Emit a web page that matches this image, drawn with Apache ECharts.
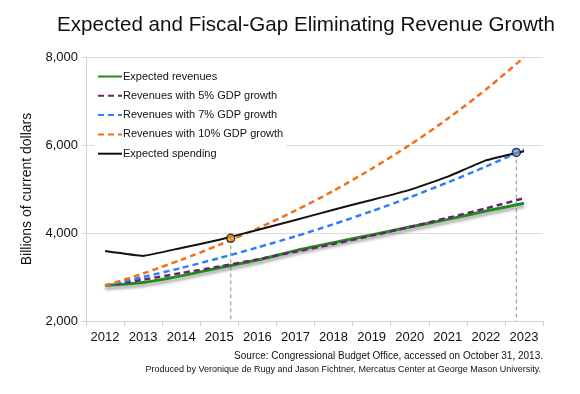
<!DOCTYPE html>
<html>
<head>
<meta charset="utf-8">
<script src="https://cdn.jsdelivr.net/npm/echarts@6/dist/echarts.min.js"></script>
<style>
html,body{margin:0;padding:0;background:#fff;}
#c{width:580px;height:394px;}
</style>
</head>
<body>
<div id="c"></div>
<script>
var years = [2012, 2013, 2014, 2015, 2016, 2017, 2018, 2019, 2020, 2021, 2022, 2023];
var yearLabels = ['2012','2013','2014','2015','2016','2017','2018','2019','2020','2021','2022','2023'];
var expectedRevenues = [2810, 2875, 3025, 3210, 3385, 3600, 3780, 3955, 4135, 4310, 4500, 4675];
var rev5 = [2800, 2940, 3090, 3240, 3400, 3575, 3750, 3940, 4135, 4345, 4560, 4790];
var rev7 = [2800, 3000, 3205, 3430, 3670, 3925, 4200, 4495, 4810, 5150, 5510, 5895];
var rev10 = [2800, 3080, 3390, 3730, 4100, 4510, 4960, 5460, 6000, 6600, 7260, 7990];
var expectedSpending = [3590, 3480, 3660, 3845, 4070, 4295, 4530, 4750, 4980, 5280, 5650, 5860];
var crossYears = [2015.3, 2022.8];
var crossValues = [3880, 5830];
var yTicks = [2000, 4000, 6000, 8000];

function pairs(vals){ return years.map(function(y,i){ return [y, vals[i]]; }); }

var chart = echarts.init(document.getElementById('c'));
var font = 'Liberation Sans, Arial, sans-serif';

function lineSeries(name, vals, color, width, dashed, smooth, extra){
  var s = {
    name: name, type: 'line', xAxisIndex: 1, yAxisIndex: 0,
    data: pairs(vals), symbol: 'none', smooth: smooth,
    lineStyle: { color: color, width: width, type: dashed ? [6, 4] : 'solid' },
    itemStyle: { color: color },
    z: 3
  };
  if (extra) for (var k in extra) s.lineStyle[k] = extra[k];
  return s;
}

var series = [
  lineSeries('Expected revenues', expectedRevenues, '#1e8f1e', 3, false, 0.25,
    { shadowColor: 'rgba(0,0,0,0.35)', shadowBlur: 3, shadowOffsetY: 3 }),
  lineSeries('Revenues with 5% GDP growth', rev5, '#6e1f72', 2.5, true, 0.25),
  lineSeries('Revenues with 7% GDP growth', rev7, '#2f80f5', 2.5, true, 0.25),
  lineSeries('Revenues with 10% GDP growth', rev10, '#f0701a', 2.5, true, 0.25),
  lineSeries('Expected spending', expectedSpending, '#111111', 2, false, 0.1)
];

var markerColors = ['#f0a030', '#6aa8f0'];
crossYears.forEach(function(cy, i){
  series.push({
    type: 'line', xAxisIndex: 1, yAxisIndex: 0, symbol: 'none', silent: true,
    data: [[cy, crossValues[i]], [cy, yTicks[0]]],
    lineStyle: { color: '#a0a0a0', width: 1.2, type: [4, 3] }, z: 2
  });
  series.push({
    type: 'scatter', xAxisIndex: 1, yAxisIndex: 0, silent: true,
    data: [[cy, crossValues[i]]], symbol: 'circle', symbolSize: 8,
    itemStyle: { color: markerColors[i], borderColor: '#111', borderWidth: 1.5 }, z: 5
  });
});

chart.setOption({
  animation: false,
  backgroundColor: '#fff',
  title: {
    text: 'Expected and Fiscal-Gap Eliminating Revenue Growth',
    left: 52, top: 10,
    textStyle: { fontFamily: font, fontSize: 20.6, fontWeight: 'normal', color: '#111' }
  },
  grid: { left: 86, right: 37, top: 57, bottom: 73 },
  legend: {
    orient: 'vertical', left: 94, top: 68,
    backgroundColor: '#fff', padding: [3, 3, 3, 3],
    itemWidth: 24, itemHeight: 10, itemGap: 8.3,
    itemStyle: { opacity: 0 },
    textStyle: { fontFamily: font, fontSize: 11, color: '#111', padding: [0, 0, 0, -4] },
    data: ['Expected revenues', 'Revenues with 5% GDP growth', 'Revenues with 7% GDP growth',
           'Revenues with 10% GDP growth', 'Expected spending']
  },
  xAxis: [{
    type: 'category', data: yearLabels, boundaryGap: true,
    axisLine: { lineStyle: { color: '#d0d0d0' } },
    axisTick: { show: true, length: 5, lineStyle: { color: '#d0d0d0' } },
    axisLabel: { fontFamily: font, fontSize: 13, color: '#111', margin: 10 },
    splitLine: { show: false }
  }, {
    type: 'value', min: 2011.5, max: 2023.5, show: false
  }],
  yAxis: [{
    type: 'value', min: 2000, max: 8000, interval: 2000,
    name: 'Billions of current dollars', nameLocation: 'middle', nameGap: 51,
    nameTextStyle: { fontFamily: font, fontSize: 14, color: '#111' },
    axisLine: { show: true, lineStyle: { color: '#d0d0d0' } },
    axisTick: { show: true, length: 4, lineStyle: { color: '#d0d0d0' } },
    axisLabel: {
      fontFamily: font, fontSize: 13, color: '#111', margin: 8,
      formatter: function(v){ return v.toLocaleString('en-US'); }
    },
    splitLine: { lineStyle: { color: '#dcdcdc' } }
  }],
  graphic: [{
    type: 'text', right: 37, top: 351,
    style: { text: 'Source: Congressional Budget Office, accessed on October 31, 2013.',
      fontFamily: font, fontSize: 10, fill: '#111', textAlign: 'right' }
  }, {
    type: 'text', right: 39, top: 365,
    style: { text: 'Produced by Veronique de Rugy and Jason Fichtner, Mercatus Center at George Mason University.',
      fontFamily: font, fontSize: 9, fill: '#111', textAlign: 'right' }
  }],
  series: series
});
</script>
</body>
</html>
